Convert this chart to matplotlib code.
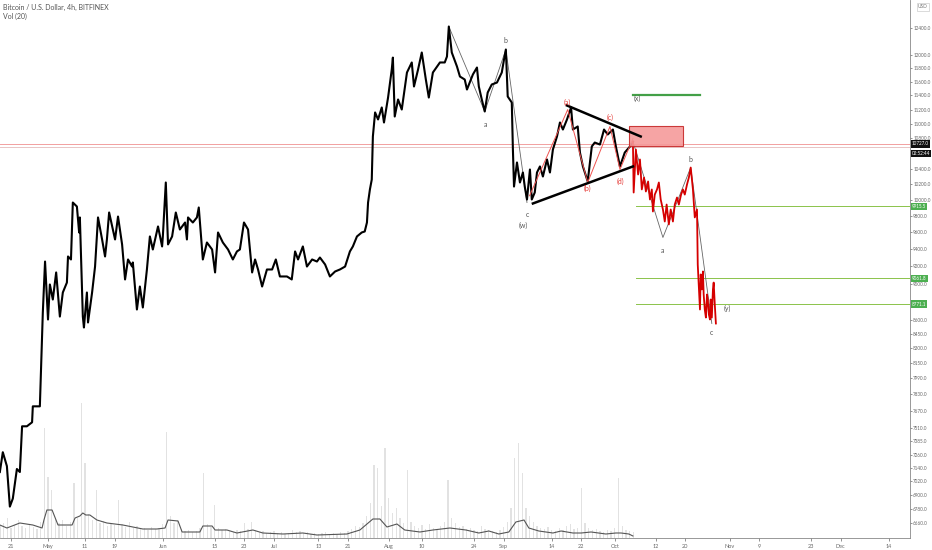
import matplotlib
matplotlib.use('Agg')
import matplotlib.pyplot as plt
import matplotlib.ticker as mticker
import matplotlib.transforms as mtrans
from matplotlib.patches import Rectangle

# x values are days counted from 2020-04-01
price_days = [17.0, 17.8, 18.9, 19.7, 20.5, 21.6, 22.4, 23.0, 24.3, 25.7,
              25.9, 27.8, 28.6, 29.2, 30.0, 30.5, 31.3, 32.2, 33.2, 34.0,
              35.1, 35.4, 36.2, 36.7, 37.8, 38.4, 38.6, 39.4, 39.7, 40.5,
              40.8, 41.9, 42.7, 43.5, 44.6, 45.4, 45.9, 46.5, 47.5, 48.1,
              48.9, 50.0, 50.8, 51.6, 52.7, 52.9, 54.0, 54.8, 55.6, 56.7,
              57.5, 58.3, 59.7, 60.8, 61.0, 61.8, 62.4, 63.5, 64.5, 65.6,
              67.0, 67.5, 67.8, 69.1, 70.2, 70.7, 71.8, 72.9, 74.3, 75.1,
              75.9, 77.2, 78.6, 79.9, 81.0, 81.8, 82.9, 84.0, 85.1, 85.9,
              86.7, 87.8, 89.1, 90.5, 91.5, 92.6, 94.5, 95.8, 96.7, 97.5,
              98.8, 99.9, 101.3, 102.6, 103.4, 104.8, 106.1, 107.5, 108.8, 110.2,
              111.5, 112.3, 113.4, 114.7, 115.5, 116.1, 116.4, 116.9, 117.4, 117.7,
              118.3, 119.1, 120.1, 120.7, 121.8, 122.8, 123.1, 123.6, 124.5, 125.5,
              126.9, 128.2, 128.8, 129.9, 130.9, 132.0, 132.8, 133.9, 135.8, 137.1,
              137.7, 138.2, 139.0, 140.4, 141.2, 142.5, 143.1, 144.7, 145.8, 146.3,
              147.1, 147.9, 148.7, 149.8, 151.2, 152.5, 153.1, 153.6, 154.1, 155.2,
              155.5, 155.8, 156.6, 157.4, 158.2, 158.7, 159.3, 160.1, 160.6, 161.4,
              162.0, 162.8, 163.6, 164.7, 165.5, 166.3, 167.4, 168.2, 169.0, 170.1,
              171.2, 171.7, 173.0, 173.6, 174.4, 175.7, 176.8, 177.6, 179.0, 180.1,
              181.1, 182.5, 183.3, 184.4, 185.7, 187.1, 187.9]
price_vals = [7103, 7282, 7156, 6801, 6870, 7130, 7103, 7523, 7523, 7561,
              7714, 7714, 8680, 9253, 8603, 8990, 8822, 9127, 8635, 8900,
              9012, 9312, 9277, 9965, 9915, 9597, 9780, 8635, 8517, 8900,
              8571, 8900, 9195, 9780, 9513, 9312, 9513, 9841, 9633, 9513,
              9791, 9454, 9047, 9277, 9195, 9242, 8712, 8967, 8734, 9161,
              9549, 9394, 9670, 9430, 9549, 10219, 9454, 9549, 9841, 9633,
              9718, 9513, 9780, 9718, 9780, 9903, 9277, 9477, 9394, 9127,
              9597, 9477, 9394, 9277, 9371, 9394, 9718, 9633, 9127, 9277,
              9161, 8967, 9161, 9161, 9277, 9081, 9081, 9047, 9371, 9277,
              9430, 9195, 9277, 9253, 9300, 9219, 9081, 9138, 9161, 9195,
              9371, 9430, 9549, 9597, 9609, 9718, 9965, 10130, 10257, 10827,
              11159, 11061, 11229, 11019, 11370, 11778, 11955, 11102, 11342, 11200,
              11733, 11882, 11529, 11778, 12032, 11630, 11370, 11733, 11882, 11882,
              11971, 12431, 12032, 11822, 11674, 11630, 11485, 11704, 11807, 11529,
              11342, 11172, 11442, 11558, 11586, 11733, 11926, 12077, 11385, 11299,
              10651, 10167, 10479, 10219, 10348, 10167, 10003, 10387, 10003, 10091,
              10348, 10427, 10296, 10519, 10348, 10651, 10827, 11019, 10922, 11061,
              11229, 10922, 10964, 10611, 10427, 10232, 10692, 10745, 10718, 10922,
              10854, 10922, 10692, 10427, 10611, 10692, 10758]

# projected path (red)
proj_days = [187.9, 188.1, 188.7, 189.3, 189.8, 190.3, 190.9, 191.4, 192.0, 192.5,
             193.0, 193.3, 193.8, 194.4, 194.9, 195.4, 196.0, 196.5, 197.0, 197.6,
             198.1, 198.7, 199.2, 199.8, 200.3, 200.9, 201.4, 201.9, 202.5, 203.0,
             203.5, 204.1, 204.6, 205.2, 205.4, 206.0, 206.2, 206.5, 206.8, 207.0,
             207.3, 207.6, 207.9, 208.1, 208.4, 208.7, 208.9, 209.2, 209.5, 209.7,
             210.0, 210.3]
proj_vals = [10758, 10091, 10651, 10322, 10519, 10130, 10283, 10104, 10232, 10003,
             10130, 9853, 10065, 10130, 10219, 10003, 9878, 9730, 9940, 9694,
             9878, 9730, 9940, 10028, 9940, 10065, 10130, 10065, 10193, 10283,
             10413, 10130, 9780, 9878, 9219, 8712, 9104, 8935, 9138, 8878,
             8712, 8624, 8878, 8822, 8657, 8603, 8822, 8624, 8935, 9012,
             8767, 8560]

# volume (daily, days 17..188) and its 20-period average
vol_days = list(range(17, 189))
vol_vals = [1.2, 1.5, 2.0, 1.0, 1.3, 1.8, 1.2, 1.0, 1.4, 1.1,
            0.9, 1.6, 11.0, 6.1, 4.8, 2.0, 1.5, 1.8, 1.2, 1.6,
            5.5, 2.0, 13.5, 7.5, 2.4, 1.8, 4.8, 1.5, 1.7, 1.2,
            1.5, 1.3, 3.8, 1.4, 1.1, 1.6, 1.0, 1.2, 0.9, 1.0,
            0.8, 1.1, 0.9, 1.0, 1.4, 10.6, 2.2, 1.5, 1.8, 0.9,
            0.7, 0.8, 0.6, 0.7, 1.0, 6.5, 1.4, 1.1, 3.3, 1.0,
            0.8, 0.9, 0.7, 0.6, 0.8, 0.7, 1.5, 0.9, 1.6, 0.8,
            0.6, 0.7, 0.5, 0.6, 0.7, 0.5, 0.6, 0.4, 0.5, 0.8,
            0.6, 0.7, 0.5, 0.6, 0.4, 0.5, 0.4, 0.5, 0.6, 0.4,
            0.5, 0.4, 0.6, 0.5, 0.7, 0.9, 1.2, 1.1, 1.5, 2.2,
            3.5, 7.3, 7.0, 3.2, 9.0, 4.0, 2.5, 3.0, 2.0, 1.5,
            6.8, 1.6, 1.2, 1.0, 1.3, 0.9, 1.4, 1.0, 0.8, 1.2,
            1.6, 5.8, 2.0, 1.5, 1.1, 1.2, 0.9, 1.0, 0.8, 0.7,
            1.2, 0.9, 0.8, 0.7, 0.6, 0.8, 1.1, 1.6, 3.0, 8.0,
            9.5, 6.5, 3.0, 2.2, 1.6, 1.2, 1.0, 0.9, 1.1, 0.8,
            0.7, 1.0, 0.8, 1.2, 1.4, 0.9, 1.0, 5.0, 1.5, 1.0,
            0.8, 0.9, 0.7, 0.6, 0.8, 0.7, 1.0, 6.0, 1.2, 0.8,
            0.7, 0.6]
ma_days = [17.0, 18.9, 22.4, 25.9, 28.4, 28.9, 29.7, 31.1, 32.7, 36.5,
           37.3, 38.6, 39.4, 40.2, 41.3, 43.2, 45.9, 50.2, 52.9, 55.6,
           59.4, 61.6, 62.4, 65.1, 66.2, 71.0, 71.8, 74.3, 75.1, 78.3,
           81.0, 85.3, 88.0, 93.4, 98.8, 102.6, 110.7, 114.2, 117.7, 119.6,
           121.5, 124.2, 126.3, 130.4, 133.9, 138.5, 142.8, 146.3, 149.0, 151.7,
           154.4, 156.3, 158.5, 159.8, 162.5, 166.3, 168.5, 171.7, 173.9, 176.6,
           180.6, 183.3, 184.7, 186.8, 187.9]
ma_vals = [1.3, 1.0, 1.5, 1.3, 1.0, 1.8, 2.8, 2.8, 1.3, 1.3,
           2.0, 2.2, 2.5, 2.3, 2.3, 1.8, 1.5, 1.3, 1.1, 0.9,
           0.9, 1.0, 1.8, 1.7, 0.6, 0.6, 1.2, 1.2, 0.8, 0.8,
           0.5, 0.8, 0.5, 0.4, 0.5, 0.3, 0.4, 0.8, 1.9, 1.9,
           1.1, 1.4, 0.8, 0.6, 0.8, 1.0, 0.8, 0.5, 0.7, 0.4,
           0.6, 1.6, 1.8, 1.0, 0.7, 0.5, 0.7, 0.5, 0.5, 0.6,
           0.4, 0.5, 0.5, 0.4, 0.2]

# wave count drawings
wave_days = [138.2, 147.9, 153.6, 159.3]
wave_vals = [12431, 11172, 12077, 9965]
tri_days = [160.0, 170.3, 175.7, 181.7, 184.4, 187.9]
tri_vals = [10050, 11200, 10219, 10964, 10387, 10800]
proj_wave_days = [187.9, 196.0, 203.5, 209.2]
proj_wave_vals = [10758, 9537, 10413, 8560]
upper_line = ([170.1, 190.0], [11257, 10827])
lower_line = ([160.9, 187.9], [9953, 10427])

labels_gray = [('b', 153.6, 12217), ('a', 148.2, 10992), ('c', 159.3, 9816),
               ('(w)', 158.4, 9682), ('(x)', 189.0, 11356), ('b', 203.5, 10519),
               ('a', 196.0, 9383), ('c', 209.2, 8461), ('(y)', 213.5, 8725)]
labels_red = [('(a)', 170.1, 11299), ('(b)', 175.5, 10143),
              ('(c)', 181.7, 11088), ('(d)', 184.6, 10232)]

green_levels = [9915.5, 9061.8, 8771.1]
target_level = 11413
last_price = 10727.0
level_2 = 10680
zone = (186.8, 201.4, 10692, 10977)

y_ticks = [12400, 12000, 11800, 11600, 11400, 11200, 11000, 10800,
           10400, 10200, 10000, 9800, 9600, 9400, 9200, 9000, 8600,
           8450, 8300, 8150, 7990, 7830, 7670, 7510, 7385, 7260, 7140,
           7020, 6900, 6780, 6660]
x_tick_days = [20, 30, 40, 48, 61, 75, 83, 91, 103, 111, 122, 131, 145, 153,
               166, 174, 183, 194, 202, 214, 222, 236, 244, 257]
x_tick_labels = ['21', 'May', '11', '19', 'Jun', '15', '23', 'Jul', '13', '21',
                 'Aug', '10', '24', 'Sep', '14', '22', 'Oct', '12', '20', 'Nov',
                 '9', '23', 'Dec', '14']

plt.rcParams['font.family'] = ['Lato', 'DejaVu Sans']

fig = plt.figure(figsize=(9.32, 5.5), dpi=100)
ax = fig.add_axes([0, 12 / 550, 910 / 932, 538 / 550])
axv = ax.twinx()
axv.set_zorder(0)
ax.set_zorder(1)
ax.patch.set_visible(False)

# volume
axv.bar(vol_days, vol_vals, width=0.35, color='#e2e2e2', linewidth=0)
axv.plot(ma_days, ma_vals, color='#555555', lw=0.8)
axv.set_ylim(0, 53.8)
axv.set_yticks([])
for s in axv.spines.values():
    s.set_visible(False)

# price
ax.set_yscale('log')
ax.plot(price_days, price_vals, color='black', lw=1.5, zorder=5)
ax.plot(proj_days, proj_vals, color='#d50000', lw=1.3, zorder=5)
ax.plot(wave_days, wave_vals, color='#666666', lw=0.6, zorder=4)
ax.plot(proj_wave_days, proj_wave_vals, color='#666666', lw=0.6, zorder=4)
ax.plot(tri_days, tri_vals, color='#ef5350', lw=0.7, zorder=6)
ax.plot(upper_line[0], upper_line[1], color='black', lw=1.8, zorder=7)
ax.plot(lower_line[0], lower_line[1], color='black', lw=1.8, zorder=7)

ax.axhline(last_price, color='#f2a0a0', lw=0.7, zorder=2)
ax.axhline(level_2, color='#e8c4c4', lw=0.7, zorder=2)
for lv in green_levels:
    ax.plot([188.7, 262.7], [lv, lv], color='#8bc34a', lw=0.7, zorder=3)
ax.plot([187.9, 206.0], [target_level, target_level], color='#43a047', lw=1.6, zorder=3)

ax.add_patch(Rectangle((zone[0], zone[2]), zone[1] - zone[0], zone[3] - zone[2],
                       facecolor='#f59a9a', edgecolor='#c62828', lw=0.8,
                       alpha=0.9, zorder=6))

for t, d, p in labels_gray:
    ax.text(d, p, t, color='#555555', fontsize=5, ha='center', va='center', zorder=8)
for t, d, p in labels_red:
    ax.text(d, p, t, color='#e53935', fontsize=5, ha='center', va='center', zorder=8)

ax.set_xlim(17.04, 262.7)
ax.set_ylim(6538, 12852)
ax.yaxis.tick_right()
ax.yaxis.set_major_locator(mticker.FixedLocator(y_ticks))
ax.yaxis.set_minor_locator(mticker.NullLocator())
ax.yaxis.set_major_formatter(mticker.FuncFormatter(lambda v, p: '%.1f' % v))
ax.tick_params(axis='y', labelsize=3.3, colors='#666666', length=1.5, width=0.5, pad=0.8)
ax.set_xticks(x_tick_days)
ax.set_xticklabels(x_tick_labels)
ax.tick_params(axis='x', labelsize=4, colors='#666666', length=2, width=0.5, pad=2)
for k in ['top', 'left']:
    ax.spines[k].set_visible(False)
ax.spines['right'].set_color('#888888')
ax.spines['bottom'].set_color('#888888')
ax.spines['right'].set_linewidth(0.6)
ax.spines['bottom'].set_linewidth(0.6)

# price scale labels
tr = mtrans.blended_transform_factory(ax.transAxes, ax.transData)
box_kw = dict(transform=tr, fontsize=3.3, color='white', va='center', ha='left',
              zorder=10, clip_on=False)
for lv in green_levels:
    ax.text(1.002, lv, '%.1f' % lv,
            bbox=dict(boxstyle='square,pad=0.25', fc='#4caf50', ec='none'), **box_kw)
ax.text(1.002, last_price, '%.1f' % last_price,
        bbox=dict(boxstyle='square,pad=0.25', fc='#111111', ec='none'), **box_kw)
ax.text(1.002, 10600, '02:52:44',
        bbox=dict(boxstyle='square,pad=0.25', fc='#111111', ec='none'), **box_kw)

fig.text(918 / 932, 1 - 7 / 550, 'USD', fontsize=3.5, color='#777777', va='center',
         bbox=dict(boxstyle='square,pad=0.3', fc='white', ec='#cccccc', lw=0.5))
fig.text(3 / 932, 1 - 7 / 550, 'Bitcoin / U.S. Dollar, 4h, BITFINEX', fontsize=5,
         color='#555555', va='center')
fig.text(3 / 932, 1 - 16 / 550, 'Vol (20)', fontsize=5, color='#555555', va='center')

fig.savefig('out.png', dpi=100)
